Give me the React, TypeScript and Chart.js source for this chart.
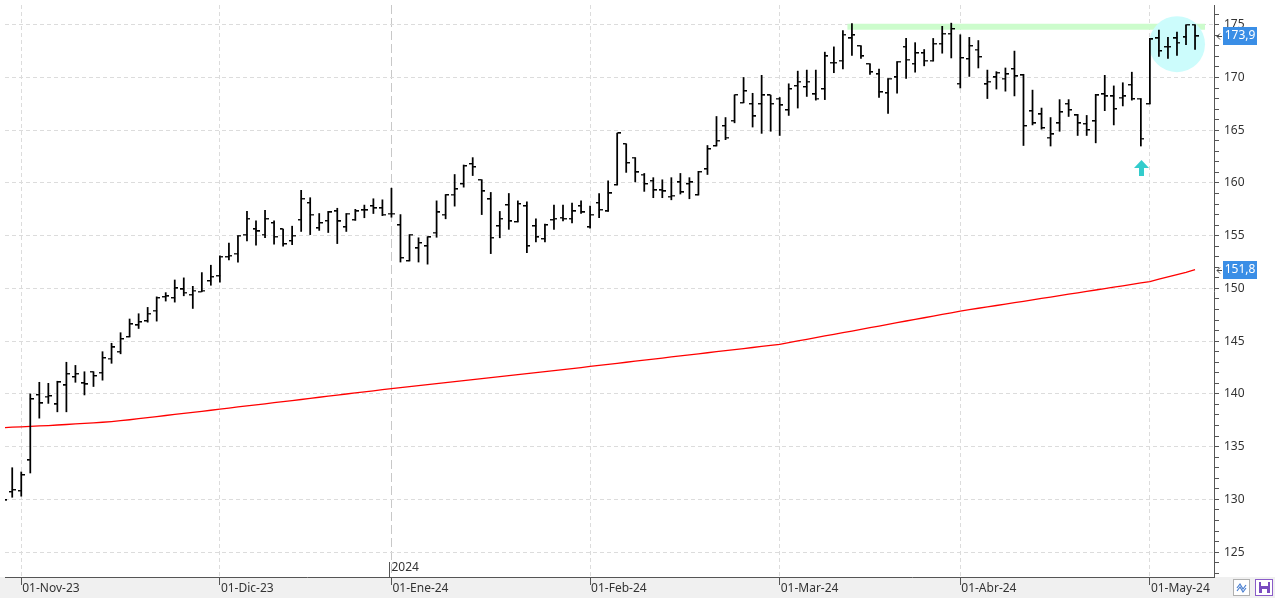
import React, { useEffect, useRef } from 'react';
import { Chart, registerables } from 'chart.js';

Chart.register(...registerables);

// ---- Data ----
const opens = [
  130.4, 130.7, 130.8, 133.7, 139.9, 139.75, 139.0, 140.8, 141.6, 141.0,
  142.1, 142.0, 143.35, 144.0, 145.4, 146.5, 146.9, 147.9, 149.2, 149.1,
  149.9, 149.4, 149.7, 150.7, 151.2, 153.0, 153.3, 155.1, 155.6, 155.1,
  156.2, 155.6, 154.5, 156.5, 158.1, 155.7, 156.4, 157.3, 155.8, 156.5,
  157.4, 157.8, 157.6, 157.1, 156.0, 152.6, 153.8, 154.0, 155.3, 157.0,
  158.9, 159.9, 161.8, 160.3, 158.45, 155.9, 157.9, 156.3, 157.8, 155.9,
  154.7, 156.5, 156.7, 156.6, 157.8, 155.8, 158.1, 157.3, 159.8, 163.7,
  162.4, 160.8, 160.2, 159.3, 158.7, 160.05, 159.9, 158.85, 161.3, 163.5,
  165.4, 165.9, 167.6, 167.5, 167.5, 168.3, 168.0, 166.9, 169.2, 169.1,
  168.4, 168.9, 171.4, 171.6, 173.7, 173.0, 171.3, 170.3, 168.5, 170.0,
  172.9, 171.3, 172.3, 171.6, 173.2, 174.15, 169.4, 171.75, 172.65, 169.35,
  170.0, 169.9, 170.8, 170.2, 166.8, 166.5, 164.3, 165.65, 167.5, 166.4,
  165.6, 165.85, 168.4, 168.2, 168.1, 169.3, 168.0, 167.5, 173.7, 172.9,
  173.7, 173.8, 175.0,
];
const highs = [
  130.8, 133.0, 132.6, 140.0, 141.1, 141.0, 141.2, 143.0, 142.7, 142.1,
  142.1, 144.0, 144.8, 145.8, 147.1, 147.6, 148.2, 149.2, 149.6, 150.8,
  151.0, 150.2, 151.5, 152.2, 153.1, 154.3, 155.0, 157.3, 156.4, 157.4,
  156.4, 155.6, 155.9, 159.3, 158.6, 157.1, 157.3, 157.6, 157.1, 157.5,
  157.9, 158.5, 158.4, 159.5, 157.0, 155.1, 154.8, 154.9, 158.3, 158.9,
  160.8, 161.7, 162.4, 160.3, 159.1, 157.3, 159.0, 158.3, 158.2, 156.6,
  156.1, 157.9, 157.9, 158.1, 158.3, 157.8, 159.0, 160.2, 164.7, 163.7,
  162.4, 160.9, 160.5, 160.3, 160.5, 160.9, 160.5, 161.1, 163.55, 166.3,
  166.2, 168.35, 170.0, 168.5, 170.2, 168.3, 168.1, 169.4, 170.6, 170.7,
  170.7, 172.4, 172.9, 174.45, 175.1, 173.0, 171.3, 170.8, 169.9, 171.5,
  173.7, 173.3, 172.65, 173.7, 174.85, 175.15, 174.05, 173.8, 173.5, 170.7,
  170.55, 170.9, 172.5, 170.3, 168.8, 167.1, 166.2, 167.9, 167.9, 166.5,
  166.4, 168.4, 170.2, 169.2, 169.5, 170.5, 168.0, 173.7, 174.5, 173.8,
  174.3, 175.0, 175.0,
];
const lows = [
  129.6, 130.2, 130.3, 132.5, 137.7, 139.1, 138.3, 138.3, 141.1, 139.9,
  140.7, 141.3, 142.9, 143.8, 145.4, 146.2, 146.8, 146.9, 148.8, 148.7,
  149.3, 148.1, 149.7, 150.3, 150.6, 152.7, 152.5, 154.5, 154.1, 154.8,
  154.2, 154.0, 154.15, 155.4, 155.1, 155.5, 155.3, 154.25, 155.4, 156.45,
  156.7, 157.1, 156.9, 156.75, 152.5, 152.6, 152.5, 152.3, 154.85, 156.6,
  157.8, 159.6, 160.7, 157.0, 153.3, 154.8, 155.6, 156.3, 153.4, 154.4,
  154.4, 155.6, 156.4, 156.2, 157.1, 155.7, 156.7, 157.3, 159.8, 161.0,
  160.1, 159.2, 158.6, 158.6, 158.4, 158.95, 158.5, 158.85, 160.8, 163.5,
  164.1, 165.7, 167.6, 165.3, 164.7, 164.9, 164.5, 166.4, 167.1, 168.2,
  167.85, 167.9, 170.45, 170.8, 172.1, 171.8, 170.3, 168.1, 166.6, 168.5,
  169.9, 170.5, 171.1, 171.55, 172.3, 171.85, 169.0, 170.1, 170.9, 168.0,
  168.9, 168.7, 168.25, 163.55, 165.5, 165.1, 163.5, 164.9, 166.3, 164.5,
  164.5, 163.8, 166.85, 165.5, 167.3, 167.85, 163.5, 167.5, 172.0, 171.8,
  172.1, 173.1, 172.65,
];
const closes = [
  129.9, 130.9, 132.3, 139.5, 139.1, 139.8, 141.1, 141.9, 141.9, 140.9,
  141.7, 143.4, 144.4, 145.2, 146.6, 146.8, 147.6, 149.1, 149.25, 150.0,
  149.6, 149.8, 149.8, 151.1, 153.0, 153.1, 155.0, 156.6, 155.4, 156.6,
  154.9, 154.2, 155.0, 158.5, 157.0, 156.2, 157.2, 156.35, 157.1, 157.3,
  157.4, 157.6, 157.0, 157.1, 152.9, 155.1, 154.3, 154.85, 157.2, 158.85,
  159.4, 161.6, 161.5, 159.2, 154.8, 156.6, 156.35, 158.0, 154.0, 154.85,
  156.0, 156.6, 156.6, 157.3, 157.2, 157.0, 157.45, 159.0, 164.7, 161.9,
  161.0, 159.9, 159.3, 159.2, 158.8, 159.1, 160.05, 161.05, 163.2, 164.0,
  164.3, 168.35, 168.7, 166.3, 168.3, 167.5, 167.35, 168.9, 169.6, 169.6,
  168.0, 172.0, 171.4, 174.05, 174.0, 172.0, 170.5, 168.6, 169.9, 171.5,
  171.7, 172.3, 171.6, 173.2, 174.15, 174.6, 171.85, 173.0, 171.95, 169.6,
  170.45, 170.3, 170.1, 165.4, 165.65, 165.2, 164.6, 166.7, 166.9, 165.65,
  165.0, 168.3, 168.2, 167.0, 168.2, 167.95, 164.2, 173.6, 172.5, 172.9,
  173.3, 175.0, 173.9,
];
const movingAverage = [
  136.80, 136.84, 136.88, 136.92, 136.96, 137.00, 137.05, 137.10, 137.15, 137.20,
  137.25, 137.31, 137.38, 137.46, 137.55, 137.65, 137.75, 137.85, 137.95, 138.05,
  138.15, 138.25, 138.35, 138.45, 138.55, 138.65, 138.76, 138.86, 138.96, 139.06,
  139.17, 139.27, 139.37, 139.47, 139.58, 139.68, 139.78, 139.88, 139.99, 140.09,
  140.19, 140.29, 140.40, 140.50, 140.60, 140.69, 140.79, 140.88, 140.98, 141.07,
  141.17, 141.26, 141.36, 141.45, 141.55, 141.64, 141.74, 141.83, 141.93, 142.02,
  142.12, 142.21, 142.31, 142.40, 142.50, 142.60, 142.70, 142.80, 142.90, 143.00,
  143.10, 143.20, 143.30, 143.40, 143.50, 143.60, 143.70, 143.80, 143.90, 144.00,
  144.10, 144.20, 144.30, 144.40, 144.50, 144.60, 144.70, 144.86, 145.02, 145.17,
  145.33, 145.49, 145.65, 145.80, 145.96, 146.12, 146.28, 146.43, 146.59, 146.75,
  146.91, 147.06, 147.22, 147.38, 147.54, 147.69, 147.85, 147.98, 148.12, 148.25,
  148.38, 148.52, 148.65, 148.78, 148.92, 149.05, 149.18, 149.32, 149.45, 149.58,
  149.72, 149.85, 149.98, 150.12, 150.25, 150.38, 150.52, 150.65, 150.87, 151.09,
  151.31, 151.53, 151.78,
];

const monthTickIndex = [2, 24, 43, 65, 86, 106, 127];
const monthTickLabels = ['01-Nov-23', '01-Dic-23', '01-Ene-24', '01-Feb-24', '01-Mar-24', '01-Abr-24', '01-May-24'];
const yearTickIndex = 43;
const yearLabel = '2024';
const yMajorTicks = [125, 130, 135, 140, 145, 150, 155, 160, 165, 170, 175];

const resistanceLevel = 174.8;
const resistanceRange = [93.5, 133.1];
const highlightIndex = 130;
const highlightValue = 173.15;
const signalIndex = 126;
const signalValue = 162.2;

const FONT = "'Noto Sans', 'Liberation Sans', sans-serif";

function makeTickImage(side: 'open' | 'close') {
  const c = document.createElement('canvas');
  c.width = 7;
  c.height = 2;
  const g = c.getContext('2d')!;
  g.fillStyle = '#000';
  if (side === 'open') g.fillRect(0, 0, 3.5, 1);
  else g.fillRect(3.5, 0, 3.5, 1);
  g.fillStyle = 'rgba(0,0,0,0.45)';
  if (side === 'open') g.fillRect(0, 1, 3.5, 1);
  else g.fillRect(3.5, 1, 3.5, 1);
  return c;
}

const decorPlugin = {
  id: 'decor',
  beforeDraw(chart: any) {
    const { ctx, width, height, chartArea } = chart;
    ctx.save();
    ctx.fillStyle = '#ffffff';
    ctx.fillRect(0, 0, width, height);
    ctx.fillStyle = '#f0f0f0';
    ctx.fillRect(0, chartArea.bottom, width, height - chartArea.bottom);
    ctx.restore();
  },
  beforeDatasetsDraw(chart: any) {
    const { ctx, chartArea, scales } = chart;
    const xs = scales.x;
    const ys = scales.y;
    ctx.save();
    ctx.beginPath();
    ctx.rect(chartArea.left, chartArea.top, chartArea.right - chartArea.left, chartArea.bottom - chartArea.top);
    ctx.clip();
    const ry = ys.getPixelForValue(resistanceLevel);
    ctx.strokeStyle = '#ccfccc';
    ctx.lineWidth = 6;
    ctx.beginPath();
    ctx.moveTo(xs.getPixelForValue(resistanceRange[0]), ry);
    ctx.lineTo(xs.getPixelForValue(resistanceRange[1]), ry);
    ctx.stroke();
    ctx.fillStyle = '#ccfcfc';
    ctx.beginPath();
    ctx.arc(xs.getPixelForValue(highlightIndex), ys.getPixelForValue(highlightValue), 28, 0, Math.PI * 2);
    ctx.fill();
    ctx.restore();
  },
  afterDatasetsDraw(chart: any) {
    const { ctx, chartArea, scales } = chart;
    const xs = scales.x;
    const ys = scales.y;
    ctx.save();
    const ax = Math.round(xs.getPixelForValue(signalIndex)) + 0.5;
    const ay = Math.round(ys.getPixelForValue(signalValue));
    ctx.fillStyle = '#33cccc';
    ctx.beginPath();
    ctx.moveTo(ax, ay);
    ctx.lineTo(ax + 7.5, ay + 8);
    ctx.lineTo(ax + 2.5, ay + 8);
    ctx.lineTo(ax + 2.5, ay + 16);
    ctx.lineTo(ax - 2.5, ay + 16);
    ctx.lineTo(ax - 2.5, ay + 8);
    ctx.lineTo(ax - 7.5, ay + 8);
    ctx.closePath();
    ctx.fill();
    const yx = Math.round(xs.getPixelForValue(yearTickIndex)) - 1.5;
    ctx.strokeStyle = '#555';
    ctx.lineWidth = 1;
    ctx.beginPath();
    ctx.moveTo(yx, chartArea.bottom - 15);
    ctx.lineTo(yx, chartArea.bottom);
    ctx.stroke();
    ctx.fillStyle = '#333';
    ctx.font = `12px ${FONT}`;
    ctx.textBaseline = 'middle';
    ctx.textAlign = 'left';
    ctx.fillText(yearLabel, yx + 2, chartArea.bottom - 9);
    ctx.restore();
  },
  afterDraw(chart: any) {
    const { ctx, scales, chartArea, width } = chart;
    const ys = scales.y;
    const left = chartArea.right;
    const drawBox = (value: number) => {
      const y = Math.round(ys.getPixelForValue(value));
      ctx.fillStyle = '#3a8ee6';
      ctx.fillRect(left + 9, y - 9, 34, 18);
      ctx.fillStyle = '#ffffff';
      ctx.font = `12px ${FONT}`;
      ctx.textAlign = 'center';
      ctx.textBaseline = 'middle';
      ctx.fillText(value.toFixed(1).replace('.', ','), left + 26, y);
      ctx.strokeStyle = '#444';
      ctx.lineWidth = 1;
      ctx.beginPath();
      ctx.moveTo(left + 3, y + 0.5);
      ctx.lineTo(left + 8, y + 0.5);
      ctx.moveTo(left + 6, y - 2.5);
      ctx.lineTo(left + 3, y + 0.5);
      ctx.lineTo(left + 6, y + 3.5);
      ctx.stroke();
    };
    ctx.save();
    drawBox(closes[closes.length - 1]);
    drawBox(movingAverage[movingAverage.length - 1]);
    const iy = chartArea.bottom + 2;
    ctx.fillStyle = '#ffffff';
    ctx.fillRect(width - 42, iy, 17, 17);
    ctx.strokeStyle = '#b0b0b0';
    ctx.strokeRect(width - 41.5, iy + 0.5, 16, 16);
    ctx.strokeStyle = '#4a7fd0';
    ctx.lineWidth = 1.2;
    ctx.beginPath();
    ctx.moveTo(width - 38, iy + 9);
    ctx.lineTo(width - 35, iy + 5);
    ctx.lineTo(width - 32, iy + 10);
    ctx.lineTo(width - 29, iy + 6);
    ctx.moveTo(width - 38, iy + 12);
    ctx.lineTo(width - 35, iy + 8);
    ctx.lineTo(width - 32, iy + 13);
    ctx.lineTo(width - 29, iy + 9);
    ctx.stroke();
    ctx.fillStyle = '#ffffff';
    ctx.fillRect(width - 20, iy, 18, 17);
    ctx.strokeStyle = '#8a5cc8';
    ctx.lineWidth = 1;
    ctx.strokeRect(width - 19.5, iy + 0.5, 17, 16);
    ctx.fillStyle = '#7a4cc0';
    ctx.fillRect(width - 16, iy + 3, 11, 11);
    ctx.fillStyle = '#ffffff';
    ctx.fillRect(width - 14, iy + 3, 7, 4);
    ctx.fillRect(width - 13, iy + 10, 5, 4);
    ctx.restore();
  },
};

export default function App() {
  const canvasRef = useRef<HTMLCanvasElement | null>(null);

  useEffect(() => {
    document.body.style.margin = '0';
    const canvas = canvasRef.current;
    if (!canvas) return;
    const openImg = makeTickImage('open');
    const closeImg = makeTickImage('close');
    const idx = closes.map((_, i) => i);

    const chart = new Chart(canvas, {
      type: 'bar',
      data: {
        datasets: [
          {
            type: 'bar',
            label: 'Rango',
            data: idx.map((i) => ({ x: i, y: [lows[i], highs[i]] })) as any,
            backgroundColor: '#000000',
            borderWidth: 0,
            barThickness: 1.1,
            order: 1,
          } as any,
          {
            type: 'line',
            label: 'Apertura',
            data: idx.map((i) => ({ x: i, y: opens[i] })),
            showLine: false,
            pointStyle: openImg as any,
            pointRadius: 4,
            order: 0,
          } as any,
          {
            type: 'line',
            label: 'Cierre',
            data: idx.map((i) => ({ x: i, y: closes[i] })),
            showLine: false,
            pointStyle: closeImg as any,
            pointRadius: 4,
            order: 0,
          } as any,
          {
            type: 'line',
            label: 'Media',
            data: idx.map((i) => ({ x: i, y: movingAverage[i] })),
            borderColor: '#ff0000',
            borderWidth: 1.3,
            pointRadius: 0,
            tension: 0,
            order: 2,
          } as any,
        ],
      },
      options: {
        animation: false,
        responsive: false,
        devicePixelRatio: 1,
        events: [],
        layout: { padding: 0 },
        plugins: {
          legend: { display: false },
          tooltip: { enabled: false },
          title: { display: false },
        },
        scales: {
          x: {
            type: 'linear',
            offset: false,
            min: 0.2,
            max: 134.1,
            afterBuildTicks: (s: any) => {
              s.ticks = monthTickIndex.map((v) => ({ value: v }));
            },
            afterFit: (s: any) => {
              s.height = 21;
              s.paddingLeft = 0;
              s.paddingRight = 0;
            },
            grid: {
              offset: false,
              color: (c: any) => (c.tick && c.tick.value === yearTickIndex ? '#c8c8c8' : '#dcdcdc'),
              tickColor: '#555',
              tickLength: 8,
              tickBorderDash: [],
            },
            border: {
              color: '#555',
              width: 1,
              dash: (c: any) => (c.tick && c.tick.value === yearTickIndex ? [9, 4] : [4, 3]),
            },
            ticks: {
              autoSkip: false,
              maxRotation: 0,
              align: 'start',
              labelOffset: 1,
              padding: -4,
              color: '#333',
              font: { family: FONT, size: 12 },
              callback: (v: any) => {
                const k = monthTickIndex.indexOf(Number(v));
                return k >= 0 ? monthTickLabels[k] : '';
              },
            },
          },
          y: {
            type: 'linear',
            position: 'right',
            min: 122.64,
            max: 176.87,
            afterBuildTicks: (s: any) => {
              const t: any[] = [];
              for (let v = 123; v <= 176; v++) t.push({ value: v });
              s.ticks = t;
            },
            afterFit: (s: any) => {
              s.width = 61;
              s.paddingTop = 0;
              s.paddingBottom = 0;
            },
            grid: {
              color: (c: any) => (c.tick && yMajorTicks.includes(c.tick.value) ? '#dcdcdc' : 'rgba(0,0,0,0)'),
              tickColor: '#555',
              tickLength: 5,
              tickBorderDash: [],
            },
            border: { color: '#555', width: 1, dash: [4, 3] },
            ticks: {
              autoSkip: false,
              padding: 5,
              color: '#333',
              font: { family: FONT, size: 12 },
              callback: (v: any) => (yMajorTicks.includes(Number(v)) ? String(v) : ''),
            },
          },
        },
      } as any,
      plugins: [decorPlugin as any],
    });
    return () => chart.destroy();
  }, []);

  return (
    <div style={{ position: 'fixed', left: 0, top: 0, width: 1275, height: 598, background: '#fff' }}>
      <canvas ref={canvasRef} width={1275} height={598} style={{ display: 'block', width: 1275, height: 598 }} />
    </div>
  );
}
